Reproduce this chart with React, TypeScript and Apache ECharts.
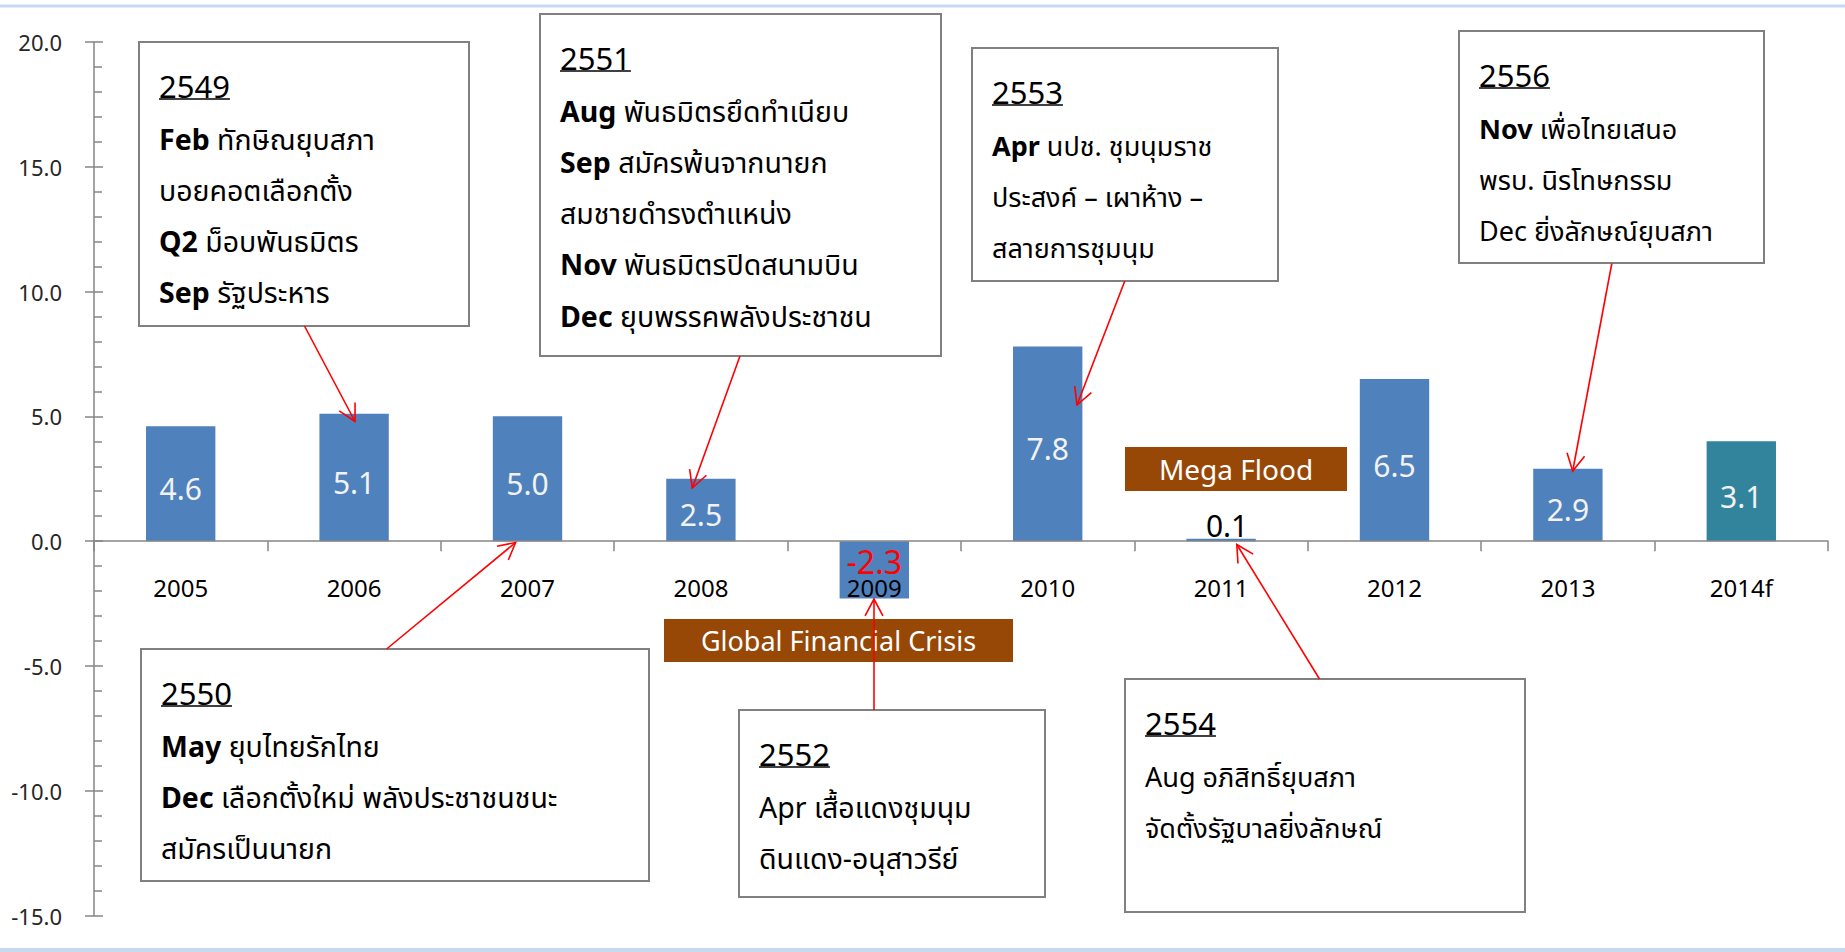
import React, { useEffect, useRef } from "react";
import * as echarts from "echarts";

// ---- data ----
const categories = ["2005", "2006", "2007", "2008", "2009", "2010", "2011", "2012", "2013", "2014f"];
const growth = [4.6, 5.1, 5.0, 2.5, -2.3, 7.8, 0.1, 6.5, 2.9, 4.0];
const valueLabels = ["4.6", "5.1", "5.0", "2.5", "-2.3", "7.8", "0.1", "6.5", "2.9", "3.1"];
const forecastIndex = 9;
const yMin = -15;
const yMax = 20;
const yInterval = 5;

// ---- annotation texts ----
const noteYears = ["2549", "2551", "2553", "2556", "2550", "2552", "2554"];
// each line: [prefix, rest, prefix bold]
const noteLines: [string, string, boolean][][] = [
  [["Feb", "ทักษิณยุบสภา", true], ["", "บอยคอตเลือกตั้ง", false], ["Q2", "ม็อบพันธมิตร", true], ["Sep", "รัฐประหาร", true]],
  [["Aug", "พันธมิตรยึดทำเนียบ", true], ["Sep", "สมัครพ้นจากนายก", true], ["", "สมชายดำรงตำแหน่ง", false], ["Nov", "พันธมิตรปิดสนามบิน", true], ["Dec", "ยุบพรรคพลังประชาชน", true]],
  [["Apr", "นปช. ชุมนุมราช", true], ["", "ประสงค์ – เผาห้าง –", false], ["", "สลายการชุมนุม", false]],
  [["Nov", "เพื่อไทยเสนอ", true], ["", "พรบ. นิรโทษกรรม", false], ["Dec", "ยิ่งลักษณ์ยุบสภา", false]],
  [["May", "ยุบไทยรักไทย", true], ["Dec", "เลือกตั้งใหม่ พลังประชาชนชนะ", true], ["", "สมัครเป็นนายก", false]],
  [["Apr", "เสื้อแดงชุมนุม", false], ["", "ดินแดง-อนุสาวรีย์", false]],
  [["Aug", "อภิสิทธิ์ยุบสภา", false], ["", "จัดตั้งรัฐบาลยิ่งลักษณ์", false]],
];
const eventTags = ["Mega Flood", "Global Financial Crisis"];

// ---- layout (pixels) ----
const W = 1845;
const H = 952;
const gridBox = { left: 94, right: 17, top: 42, bottom: 36.5 };
const noteBoxes = [
  [139, 42, 330, 284],
  [540, 14, 401, 342],
  [972, 48, 306, 233],
  [1459, 31, 305, 232],
  [141, 649, 508, 232],
  [739, 710, 306, 187],
  [1125, 679, 400, 233],
];
const noteFontSizes = [28.5, 28.5, 27, 27, 28.5, 28.5, 27];
const tagBoxes = [
  [1125, 447, 222, 44],
  [664, 619, 349, 43],
];
const arrows = [
  [304.5, 326, 355, 421.5],
  [740, 356, 692.3, 488],
  [1124.8, 281, 1077, 405],
  [1611.8, 263.5, 1572.7, 471],
  [386.6, 649, 515.6, 542.5],
  [874, 710, 874, 599],
  [1319.5, 679, 1236.8, 544.5],
];

const FONT = "'Noto Sans', 'Noto Sans Thai', 'Leelawadee UI', Tahoma, 'DejaVu Sans', sans-serif";

function measure(text: string, size: number, weight = "normal") {
  const c = document.createElement("canvas");
  const ctx = c.getContext("2d")!;
  ctx.font = `${weight} ${size}px ${FONT}`;
  return ctx.measureText(text).width;
}

function buildGraphics() {
  const els: any[] = [];
  // page borders
  els.push({ type: "line", silent: true, z: -10, shape: { x1: 0, y1: 6, x2: W, y2: 6 }, style: { stroke: "#c6d9f1", lineWidth: 3 } });
  els.push({ type: "line", silent: true, z: -10, shape: { x1: 0, y1: 950, x2: W, y2: 950 }, style: { stroke: "#c6d9f1", lineWidth: 4 } });

  const titleSize = 31;
  noteBoxes.forEach((b, i) => {
    const [x, y, w, h] = b;
    const lineSize = noteFontSizes[i];
    els.push({ type: "rect", z: 20, shape: { x, y, width: w, height: h }, style: { fill: "#ffffff", stroke: "#808080", lineWidth: 2 } });
    const tx = x + 20;
    const titleBase = y + 54;
    const tw = measure(noteYears[i], titleSize);
    els.push({
      type: "text", z: 21, x: tx, y: titleBase - 0.33 * titleSize,
      style: { text: noteYears[i], fontSize: titleSize, fontFamily: FONT, fill: "#000", align: "left", verticalAlign: "middle" },
    });
    els.push({ type: "line", z: 21, shape: { x1: tx, y1: titleBase + 3, x2: tx + tw, y2: titleBase + 3 }, style: { stroke: "#000", lineWidth: 1.6 } });
    noteLines[i].forEach((ln, j) => {
      const base = titleBase + 52 + j * 51.3;
      const [pre, rest, bold] = ln;
      const text = pre ? `{p|${pre}} ${rest}` : rest;
      els.push({
        type: "text", z: 21, x: tx, y: base - 0.33 * lineSize,
        style: {
          text, fontSize: lineSize, fontFamily: FONT, fill: "#000", align: "left", verticalAlign: "middle",
          rich: { p: { fontSize: lineSize, fontFamily: FONT, fontWeight: bold ? "bold" : "normal", fill: "#000" } },
        },
      });
    });
  });

  tagBoxes.forEach((b, i) => {
    const [x, y, w, h] = b;
    els.push({ type: "rect", z: 20, shape: { x, y, width: w, height: h }, style: { fill: "#974706" } });
    els.push({
      type: "text", z: 21, x: x + w / 2, y: y + h / 2,
      style: { text: eventTags[i], fontSize: i === 0 ? 28 : 27, fontFamily: FONT, fill: "#ffffff", align: "center", verticalAlign: "middle" },
    });
  });

  arrows.forEach((a) => {
    const [x1, y1, x2, y2] = a;
    els.push({ type: "line", z: 30, shape: { x1, y1, x2, y2 }, style: { stroke: "#ff0000", lineWidth: 1.6 } });
    const ang = Math.atan2(y1 - y2, x1 - x2);
    const L = 19;
    const s = (28 * Math.PI) / 180;
    els.push({
      type: "polyline", z: 30,
      shape: { points: [[x2 + L * Math.cos(ang + s), y2 + L * Math.sin(ang + s)], [x2, y2], [x2 + L * Math.cos(ang - s), y2 + L * Math.sin(ang - s)]] },
      style: { stroke: "#ff0000", lineWidth: 1.6, fill: "none" },
    });
  });
  return els;
}

export default function App() {
  const ref = useRef<HTMLDivElement>(null);
  useEffect(() => {
    document.body.style.margin = "0";
    const chart = echarts.init(ref.current!, undefined, { renderer: "svg" });
    const gridHeight = H - gridBox.top - gridBox.bottom;
    const zeroFromBottom = ((0 - yMin) / (yMax - yMin)) * gridHeight;
    const barData = growth.map((v, i) => {
      const item: any = { value: v };
      if (i === forecastIndex) item.itemStyle = { color: "#31849b" };
      if (v < 0) item.label = { position: "insideTop", distance: 4, offset: [0, 0], color: "#ff0000", fontSize: 32 };
      if (Math.abs(v) < 0.5) item.label = { position: "top", distance: 0, offset: [6, 2], color: "#000", fontSize: 30 };
      return item;
    });
    chart.setOption({
      animation: false,
      backgroundColor: "#ffffff",
      textStyle: { fontFamily: FONT },
      grid: { ...gridBox, containLabel: false },
      xAxis: {
        type: "category",
        data: categories,
        position: "bottom",
        offset: -zeroFromBottom,
        z: 5,
        axisLine: { onZero: false, lineStyle: { color: "#868686", width: 1.5 } },
        axisTick: { show: true, alignWithLabel: false, length: 10, lineStyle: { color: "#868686", width: 1.5 } },
        axisLabel: { margin: 34, fontSize: 24, color: "#000", fontFamily: FONT },
        splitLine: { show: false },
      },
      yAxis: [
        {
          type: "value", min: yMin, max: yMax, interval: yInterval,
          axisLine: { show: true, onZero: false, lineStyle: { color: "#868686", width: 1.5 } },
          axisTick: { show: true, inside: false, length: 9, lineStyle: { color: "#868686", width: 1.5 } },
          axisLabel: { margin: 32, fontSize: 22, color: "#262626", fontFamily: FONT, formatter: (v: number) => v.toFixed(1) },
          splitLine: { show: false },
        },
        {
          type: "value", min: yMin, max: yMax, interval: yInterval, position: "left",
          axisLine: { show: false, onZero: false },
          axisTick: { show: true, inside: true, length: 9, lineStyle: { color: "#868686", width: 1.5 } },
          minorTick: { show: true, splitNumber: 5, length: 8, lineStyle: { color: "#868686", width: 1.5 } },
          axisLabel: { show: false },
          splitLine: { show: false },
        },
      ],
      series: [
        {
          type: "bar",
          data: barData,
          barWidth: "40%",
          itemStyle: { color: "#4f81bd" },
          label: {
            show: true,
            position: "inside",
            offset: [0, 5],
            color: "#f2f2f2",
            fontSize: 30,
            fontFamily: FONT,
            formatter: (p: any) => valueLabels[p.dataIndex],
          },
        },
      ],
      graphic: buildGraphics(),
    });
    return () => chart.dispose();
  }, []);
  return <div ref={ref} style={{ position: "fixed", left: 0, top: 0, width: W, height: H }} />;
}
